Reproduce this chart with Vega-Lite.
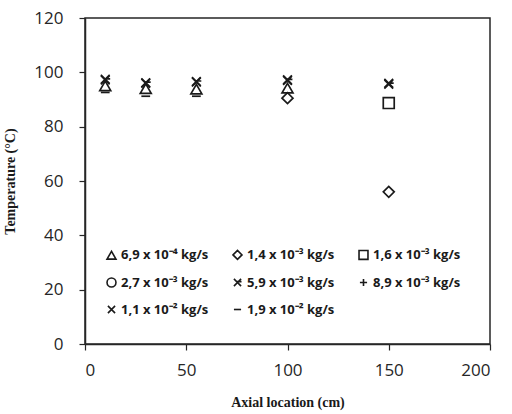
{
  "$schema": "https://vega.github.io/schema/vega-lite/v6.json",
  "autosize": "none",
  "width": 405,
  "height": 326,
  "padding": {"left": 85, "top": 18, "right": 22, "bottom": 70},
  "background": "white",
  "config": {
    "view": {"stroke": "#262626", "strokeWidth": 1.5},
    "axis": {
      "grid": false,
      "domainColor": "#262626",
      "domainWidth": 1.5,
      "tickColor": "#262626",
      "tickWidth": 1.2,
      "tickSize": 6,
      "labelFont": "Open Sans",
      "labelFontSize": 17,
      "labelColor": "#262626",
      "titleFont": "Liberation Serif",
      "titleFontSize": 14,
      "titleFontWeight": "bold",
      "titleColor": "#1a1a1a"
    },
    "legend": {
      "labelFont": "Open Sans",
      "labelFontSize": 13,
      "labelFontWeight": "bold",
      "labelColor": "#1a1a1a"
    }
  },
  "data": {
    "values": [
      {"pos": 10, "T": 92.6, "flow": "1,9 x 10⁻² kg/s"},
      {"pos": 30, "T": 91.2, "flow": "1,9 x 10⁻² kg/s"},
      {"pos": 55, "T": 91.2, "flow": "1,9 x 10⁻² kg/s"},
      {"pos": 10, "T": 95.0, "flow": "6,9 x 10⁻⁴ kg/s"},
      {"pos": 30, "T": 94.0, "flow": "6,9 x 10⁻⁴ kg/s"},
      {"pos": 55, "T": 93.8, "flow": "6,9 x 10⁻⁴ kg/s"},
      {"pos": 100, "T": 94.2, "flow": "6,9 x 10⁻⁴ kg/s"},
      {"pos": 100, "T": 90.5, "flow": "1,4 x 10⁻³ kg/s"},
      {"pos": 150, "T": 56.0, "flow": "1,4 x 10⁻³ kg/s"},
      {"pos": 150, "T": 88.7, "flow": "1,6 x 10⁻³ kg/s"},
      {"pos": 10, "T": 97.5, "flow": "1,1 x 10⁻² kg/s"},
      {"pos": 30, "T": 96.2, "flow": "1,1 x 10⁻² kg/s"},
      {"pos": 55, "T": 96.6, "flow": "1,1 x 10⁻² kg/s"},
      {"pos": 100, "T": 97.3, "flow": "1,1 x 10⁻² kg/s"},
      {"pos": 150, "T": 96.0, "flow": "1,1 x 10⁻² kg/s"},
      {"pos": 10, "T": 97.2, "flow": "5,9 x 10⁻³ kg/s"},
      {"pos": 30, "T": 96.0, "flow": "5,9 x 10⁻³ kg/s"},
      {"pos": 55, "T": 96.4, "flow": "5,9 x 10⁻³ kg/s"},
      {"pos": 100, "T": 97.0, "flow": "5,9 x 10⁻³ kg/s"},
      {"pos": 150, "T": 95.6, "flow": "5,9 x 10⁻³ kg/s"}
    ]
  },
  "mark": {"type": "point", "filled": false, "strokeWidth": 1.7, "size": 120, "color": "#1a1a1a", "opacity": 1},
  "encoding": {
    "x": {
      "field": "pos", "type": "quantitative",
      "scale": {"domain": [0, 200], "nice": false},
      "axis": {"values": [0, 50, 100, 150, 200], "title": "Axial location (cm)", "labelPadding": 12, "titlePadding": 17}
    },
    "y": {
      "field": "T", "type": "quantitative",
      "scale": {"domain": [0, 120], "nice": false},
      "axis": {"values": [0, 20, 40, 60, 80, 100, 120], "title": "Temperature (°C)", "labelPadding": 16, "titlePadding": 16}
    },
    "shape": {
      "field": "flow", "type": "nominal",
      "scale": {
        "domain": ["6,9 x 10⁻⁴ kg/s", "1,4 x 10⁻³ kg/s", "1,6 x 10⁻³ kg/s", "2,7 x 10⁻³ kg/s", "5,9 x 10⁻³ kg/s", "8,9 x 10⁻³ kg/s", "1,1 x 10⁻² kg/s", "1,9 x 10⁻² kg/s"],
        "range": ["triangle-up", "diamond", "square", "circle", "M-0.8,-0.8L0.8,0.8M-0.8,0.8L0.8,-0.8M-0.2,-0.2L0.9,-0.2", "M-0.8,0L0.8,0M0,-0.8L0,0.8", "M-0.8,-0.8L0.8,0.8M-0.8,0.8L0.8,-0.8", "M-0.8,0L0.8,0"]
      },
      "legend": {
        "title": null,
        "orient": "none",
        "direction": "horizontal",
        "legendX": 20,
        "legendY": 230,
        "columns": 3,
        "columnPadding": 20,
        "rowPadding": 11,
        "symbolSize": 80,
        "symbolStrokeWidth": 1.6,
        "symbolStrokeColor": "#1a1a1a",
        "labelOffset": 3
      }
    }
  }
}
